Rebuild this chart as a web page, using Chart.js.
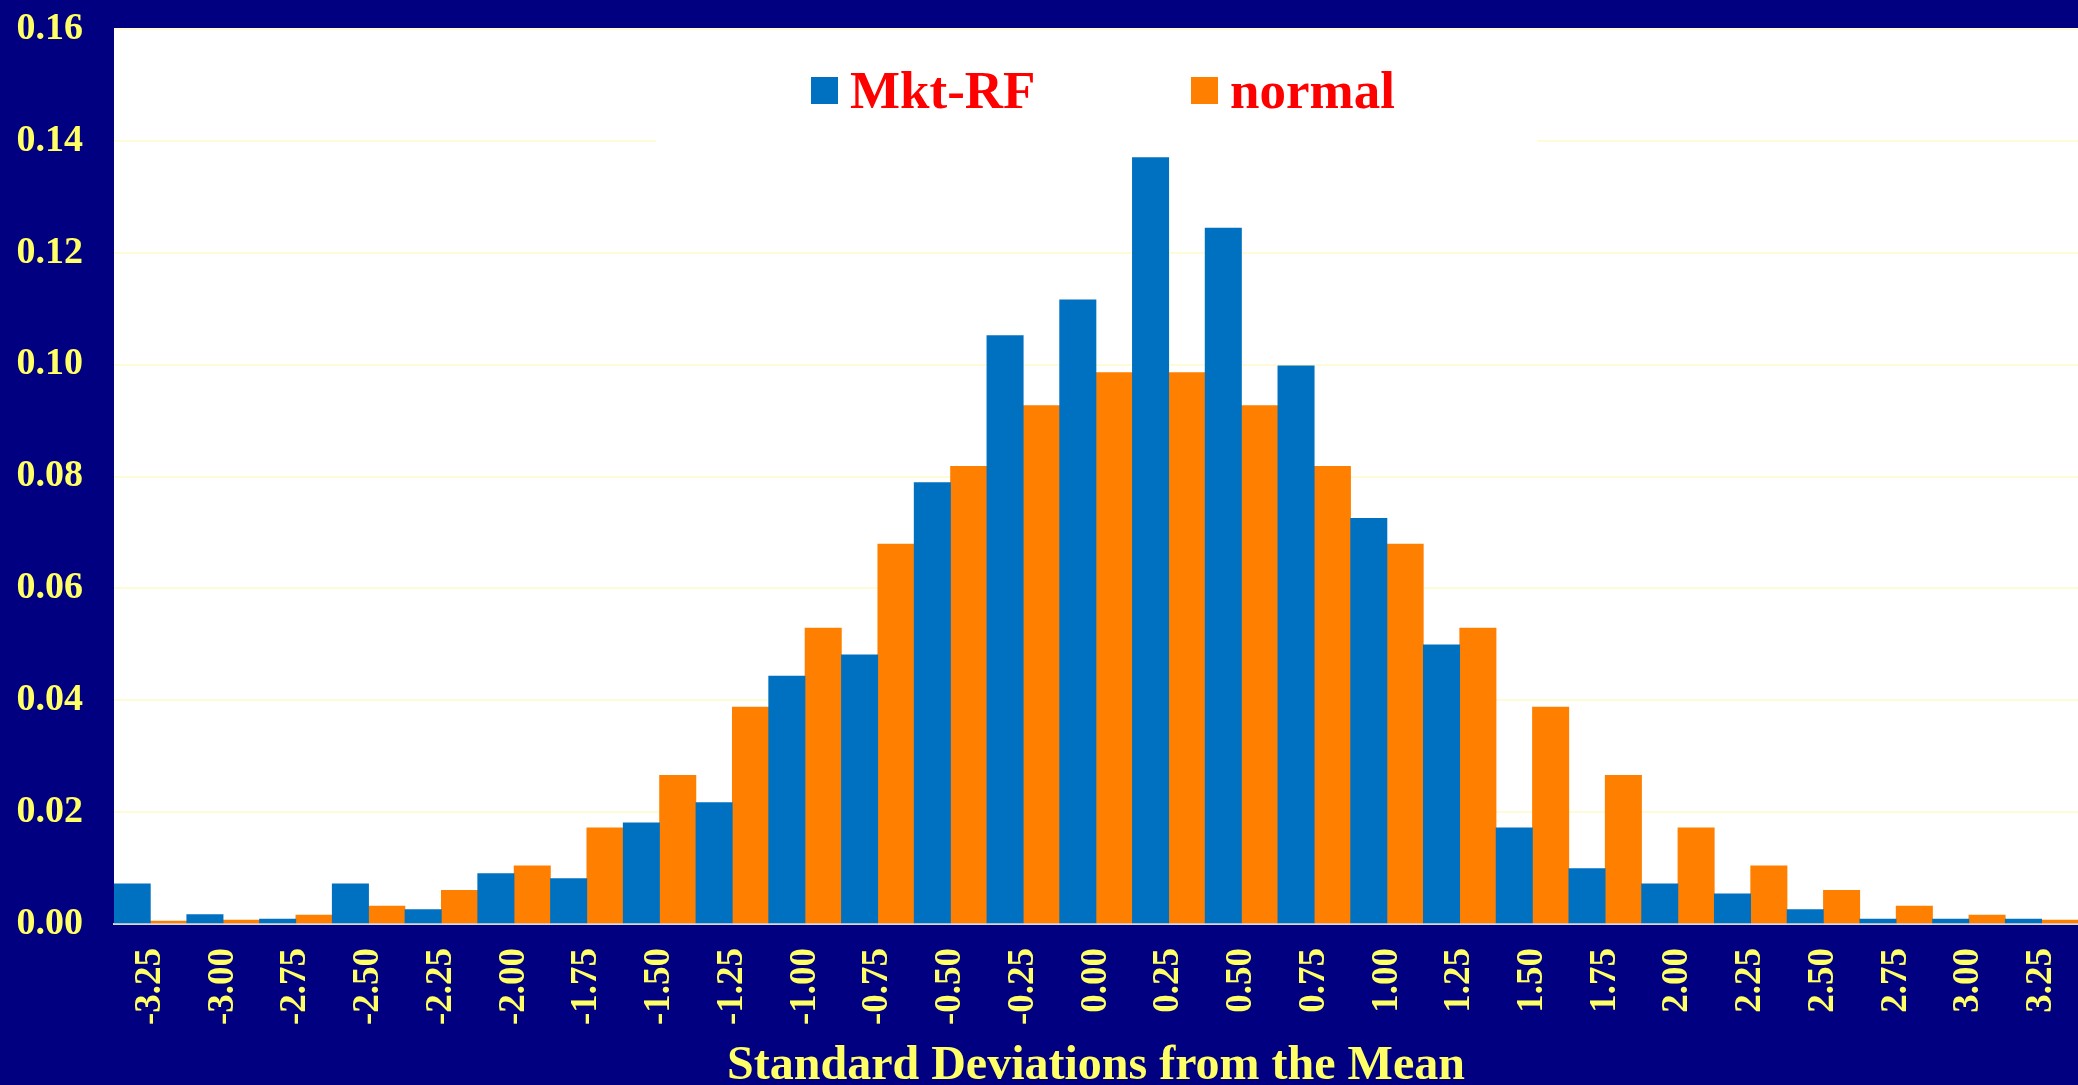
<!DOCTYPE html>
<html>
<head>
<meta charset="utf-8">
<script src="https://cdn.jsdelivr.net/npm/chart.js@4/dist/chart.umd.min.js"></script>
<style>
  html, body { margin: 0; padding: 0; background: #000080; }
  #wrap { width: 2078px; height: 1085px; }
</style>
</head>
<body>
<div id="wrap"><canvas id="histChart" width="2078" height="1085"></canvas></div>
<script>
// bins in standard deviations from the mean
const categories = ['-3.25', '-3.00', '-2.75', '-2.50', '-2.25', '-2.00', '-1.75', '-1.50', '-1.25',
    '-1.00', '-0.75', '-0.50', '-0.25', '0.00', '0.25', '0.50', '0.75', '1.00', '1.25',
    '1.50', '1.75', '2.00', '2.25', '2.50', '2.75', '3.00', '3.25'];

const mktRF = [0.0072, 0.0017, 0.0009, 0.0072, 0.0026, 0.0090, 0.0081, 0.0181, 0.0217,
    0.0443, 0.0481, 0.0789, 0.1052, 0.1116, 0.1370, 0.1244, 0.0998, 0.0725, 0.0499,
    0.0172, 0.0099, 0.0072, 0.0054, 0.0026, 0.0009, 0.0009, 0.0009];

const normal = [0.0005, 0.0007, 0.0016, 0.0032, 0.0060, 0.0104, 0.0172, 0.0266, 0.0388,
    0.0529, 0.0679, 0.0818, 0.0927, 0.0986, 0.0986, 0.0927, 0.0818, 0.0679, 0.0529,
    0.0388, 0.0266, 0.0172, 0.0104, 0.0060, 0.0032, 0.0016, 0.0007];

const yTicks = [0, 0.02, 0.04, 0.06, 0.08, 0.10, 0.12, 0.14, 0.16];

const serif = "'Liberation Serif', 'Times New Roman', serif";
const yellow = '#ffff66';

// white plot background + legend panel drawn inside the plot
const plotDecor = {
    id: 'plotDecor',
    beforeDraw(chart) {
        const { ctx, chartArea: a } = chart;
        ctx.save();
        ctx.fillStyle = '#ffffff';
        ctx.fillRect(a.left, a.top, a.right - a.left, a.bottom - a.top);
        ctx.strokeStyle = '#e8e4c8';
        ctx.lineWidth = 1;
        ctx.beginPath();
        ctx.moveTo(a.left, a.top + 0.5);
        ctx.lineTo(a.right, a.top + 0.5);
        ctx.stroke();
        ctx.restore();
    },
    beforeDatasetsDraw(chart) {
        const ctx = chart.ctx;
        ctx.save();
        ctx.fillStyle = '#ffffff';
        ctx.fillRect(656, 40, 1537 - 656, 110);
        const boxX = [811, 1191];
        ctx.font = 'bold 53px ' + serif;
        ctx.textBaseline = 'alphabetic';
        chart.data.datasets.forEach((ds, i) => {
            ctx.fillStyle = ds.backgroundColor;
            ctx.fillRect(boxX[i], 77, 27, 27);
            ctx.fillStyle = '#ff0000';
            ctx.fillText(ds.label, boxX[i] + 39, 108);
        });
        ctx.restore();
    }
};

const ctx = document.getElementById('histChart').getContext('2d');
new Chart(ctx, {
    type: 'bar',
    data: {
        labels: categories,
        datasets: [
            { label: 'Mkt-RF', data: mktRF, backgroundColor: '#0070c0', borderWidth: 0 },
            { label: 'normal', data: normal, backgroundColor: '#ff8000', borderWidth: 0 }
        ]
    },
    options: {
        responsive: false,
        animation: false,
        layout: { padding: { left: 17, top: 29, right: 0, bottom: 0 } },
        datasets: { bar: { barPercentage: 1, categoryPercentage: 1 } },
        plugins: {
            legend: { display: false },
            tooltip: { enabled: false }
        },
        scales: {
            x: {
                afterFit(scale) {
                    scale.paddingLeft = 0;
                    scale.paddingRight = 0;
                    scale.height = 161;
                },
                grid: { display: false, drawTicks: false },
                border: { color: '#d8d8d8', width: 2 },
                ticks: {
                    color: yellow,
                    font: { family: serif, size: 37, weight: 'bold' },
                    minRotation: 90,
                    maxRotation: 90,
                    autoSkip: false,
                    padding: 24
                },
                title: {
                    display: true,
                    text: 'Standard Deviations from the Mean',
                    color: yellow,
                    font: { family: serif, size: 48, weight: 'bold', lineHeight: 1.2 },
                    padding: { top: 14, bottom: -10 }
                }
            },
            y: {
                min: 0,
                max: 0.16,
                afterBuildTicks(axis) { axis.ticks = yTicks.map(v => ({ value: v })); },
                afterFit(scale) {
                    scale.paddingTop = 0;
                    scale.paddingBottom = 0;
                    scale.width = 97;
                },
                grid: { color: '#fffbd6', lineWidth: 2, drawTicks: false },
                border: { display: false },
                ticks: {
                    color: yellow,
                    font: { family: serif, size: 38, weight: 'bold' },
                    padding: 31,
                    callback: v => Number(v).toFixed(2)
                }
            }
        }
    },
    plugins: [plotDecor]
});
</script>
</body>
</html>
